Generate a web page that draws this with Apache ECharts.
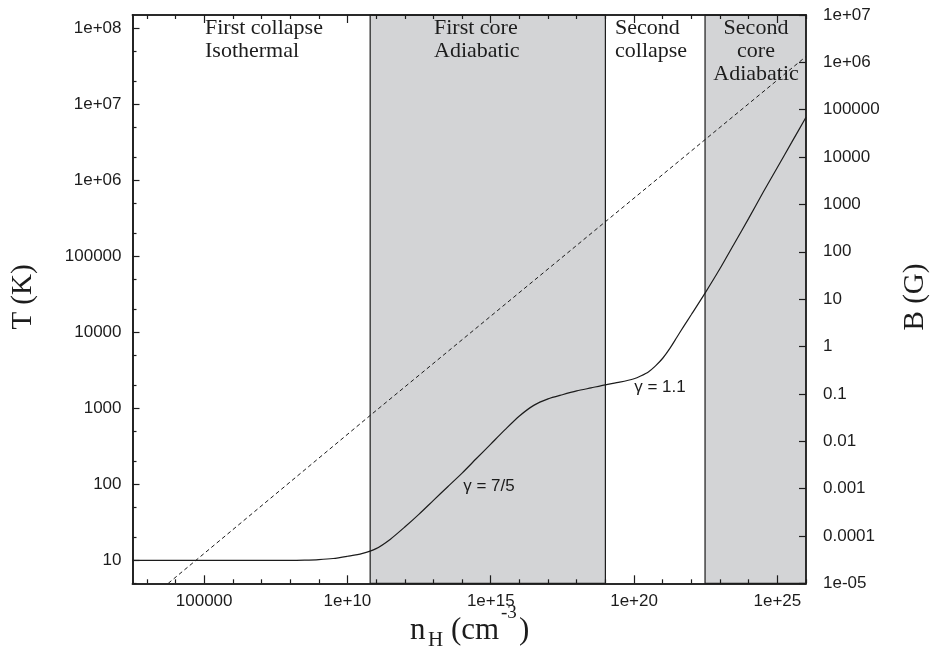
<!DOCTYPE html>
<html>
<head>
<meta charset="utf-8">
<script src="https://cdn.jsdelivr.net/npm/echarts@6/dist/echarts.min.js"></script>
<style>
  html, body { margin: 0; padding: 0; background: #fff; }
  #chart { width: 930px; height: 648px; }
</style>
</head>
<body>
<div id="chart"></div>
<script>
// Hydrogen number density along the collapse track (cm^-3)
const densityN = [3.16e2, 1e4, 1e6, 1e8, 3.16e8, 1e9, 3.16e9, 1e10, 3.16e10, 1e11, 3.16e11,
  1e12, 3.16e12, 1e13, 3.16e13, 1e14, 3.16e14, 1e15, 3.16e15, 1e16, 3.16e16, 1e17, 3.16e17,
  1e18, 3.16e18, 1e19, 3.16e19, 1e20, 1.78e20, 3.16e20, 5.62e20, 1e21, 1.78e21, 3.16e21, 5.62e21,
  1e22, 3.16e22, 1e23, 3.16e23, 1e24, 3.16e24, 1e25, 3.16e25, 1e26];
// Gas temperature at each density (K)
const temperatureK = [10, 10, 10, 10, 10.07, 10.23, 10.59, 11.35, 12.3, 14.3, 19.05,
  27.5, 40.7, 61.7, 93.3, 141, 219, 339, 525, 794, 1096, 1334, 1514,
  1698, 1862, 2042, 2213, 2455, 2692, 3020, 3631, 4571, 6166, 8710, 12300,
  17180, 33880, 69180, 147900, 316200, 691800, 1.48e6, 3.16e6, 6.76e6];

// Magnetic field strength (G) against density
const fieldDensityN = [5.6e3, 6.2e10, 1e26];
const fieldB = [1e-5, 0.035, 1.33e6];

// Density limits of the two adiabatic phases (shaded)
const shadedFrom = [6.2e10, 3e22];
const shadedTo = [1e19, 1e26];

// Phase titles and the effective adiabatic indices
const phaseTitles = ['First collapse\nIsothermal', 'First core\nAdiabatic', 'Second\ncollapse', 'Second\ncore\nAdiabatic'];
const gammaTexts = ['γ = 7/5', 'γ = 1.1'];

// Axis ranges
const nRange = [3.16e2, 1e26];
const tRange = [5, 1.5e8];
const bRange = [1e-5, 1e7];

// Ticks (decade exponents) and their labels
const xMajorExp = [5, 10, 15, 20, 25];
const xMajorLabels = ['100000', '1e+10', '1e+15', '1e+20', '1e+25'];
const xMinorExp = [3, 4, 6, 7, 8, 9, 11, 12, 13, 14, 16, 17, 18, 19, 21, 22, 23, 24, 26];
const tMajorExp = [1, 2, 3, 4, 5, 6, 7, 8];
const tMajorLabels = ['10', '100', '1000', '10000', '100000', '1e+06', '1e+07', '1e+08'];
const tMinorValues = [5, 20, 50, 200, 500, 2e3, 5e3, 2e4, 5e4, 2e5, 5e5, 2e6, 5e6, 2e7, 5e7];
const bMajorExp = [-5, -4, -3, -2, -1, 0, 1, 2, 3, 4, 5, 6, 7];
const bMajorLabels = ['1e-05', '0.0001', '0.001', '0.01', '0.1', '1', '10', '100', '1000', '10000', '100000', '1e+06', '1e+07'];

const lg = Math.log10;
const SERIF = '"Liberation Serif", "DejaVu Serif", serif';
const SANS = '"Liberation Sans", Arial, sans-serif';
const INK = '#1c1c1c';

const lookup = (exps, labels) => v => {
  const i = exps.indexOf(Math.round(v));
  return i < 0 ? '' : labels[i];
};

function axisBase(min, max) {
  return {
    type: 'value', min: min, max: max, z: 10,
    splitLine: { show: false },
    axisLine: { show: true, onZero: false, lineStyle: { color: INK, width: 1.6 } },
    axisLabel: { show: false },
    axisTick: { show: true, inside: true, lineStyle: { color: INK, width: 1.2 } }
  };
}

function xAxisOf(position, ticks, len, labels) {
  const a = axisBase(lg(nRange[0]), lg(nRange[1]));
  a.position = position;
  a.axisTick.customValues = ticks;
  a.axisTick.length = len;
  if (labels) {
    a.axisLabel = {
      show: true, customValues: ticks, margin: 10,
      color: INK, fontFamily: SANS, fontSize: 17,
      formatter: lookup(xMajorExp, xMajorLabels)
    };
  }
  return a;
}

const xAxes = [
  xAxisOf('bottom', xMajorExp, 8, true),
  xAxisOf('bottom', xMinorExp, 4, false),
  xAxisOf('top', xMajorExp, 8, false),
  xAxisOf('top', xMinorExp, 4, false)
];

const yLeftMajor = axisBase(lg(tRange[0]), lg(tRange[1]));
yLeftMajor.position = 'left';
yLeftMajor.axisTick.customValues = tMajorExp;
yLeftMajor.axisTick.length = 7;
yLeftMajor.axisLabel = {
  show: true, customValues: tMajorExp, margin: 11,
  color: INK, fontFamily: SANS, fontSize: 17,
  formatter: lookup(tMajorExp, tMajorLabels)
};

const yLeftMinor = axisBase(lg(tRange[0]), lg(tRange[1]));
yLeftMinor.position = 'left';
yLeftMinor.axisTick.customValues = tMinorValues.map(lg);
yLeftMinor.axisTick.length = 4;

const yRight = axisBase(lg(bRange[0]), lg(bRange[1]));
yRight.position = 'right';
yRight.axisTick.customValues = bMajorExp;
yRight.axisTick.length = 7;
yRight.axisLabel = {
  show: true, customValues: bMajorExp, margin: 17,
  color: INK, fontFamily: SANS, fontSize: 17,
  formatter: lookup(bMajorExp, bMajorLabels)
};

const tempData = densityN.map((n, i) => [lg(n), lg(temperatureK[i])]);
const fieldData = fieldDensityN.map((n, i) => [lg(n), lg(fieldB[i])]);
const shadedAreas = shadedFrom.map((from, i) => [{ xAxis: lg(from) }, { xAxis: lg(shadedTo[i]) }]);

const serifText = (x, y, text, align) => ({
  type: 'text', x: x, y: y, z: 20,
  style: { text: text, fill: INK, font: '22px ' + SERIF, lineHeight: 23, align: align || 'left', verticalAlign: 'top' }
});
const sansText = (x, y, text) => ({
  type: 'text', x: x, y: y, z: 20,
  style: { text: text, fill: INK, font: '17px ' + SANS, align: 'center', verticalAlign: 'middle' }
});
const nameText = (x, y, text, size, rot) => ({
  type: 'text', x: x, y: y, z: 20, rotation: rot || 0,
  style: { text: text, fill: INK, font: size + 'px ' + SERIF, align: rot ? 'center' : 'left', verticalAlign: 'middle' }
});

const chart = echarts.init(document.getElementById('chart'), null, { renderer: 'canvas' });
chart.setOption({
  animation: false,
  backgroundColor: '#fff',
  grid: { left: 132.5, right: 124, top: 15, bottom: 64.7, containLabel: false },
  xAxis: xAxes,
  yAxis: [yLeftMajor, yLeftMinor, yRight],
  series: [
    {
      name: 'T', type: 'line', xAxisIndex: 0, yAxisIndex: 0,
      data: tempData, showSymbol: false, smooth: 0.25, z: 4,
      lineStyle: { color: INK, width: 1.2 },
      markArea: {
        silent: true,
        itemStyle: { color: '#d3d4d6', borderColor: INK, borderWidth: 1.2 },
        data: shadedAreas
      }
    },
    {
      name: 'B', type: 'line', xAxisIndex: 0, yAxisIndex: 2,
      data: fieldData, showSymbol: false, z: 4,
      lineStyle: { color: INK, width: 1, type: [4, 3] }
    }
  ],
  graphic: [
    serifText(205, 17, phaseTitles[0]),
    serifText(434, 17, phaseTitles[1]),
    serifText(615, 17, phaseTitles[2]),
    serifText(756, 17, phaseTitles[3], 'center'),
    sansText(489, 486, gammaTexts[0]),
    sansText(660, 387, gammaTexts[1]),
    nameText(23, 297, 'T (K)', 29, Math.PI / 2),
    nameText(915, 297, 'B (G)', 29, Math.PI / 2),
    nameText(410, 631, 'n', 31),
    nameText(428, 640, 'H', 21),
    nameText(451, 631, '(cm', 31),
    nameText(501, 613, '-3', 19),
    nameText(519, 631, ')', 31)
  ]
});
</script>
</body>
</html>
